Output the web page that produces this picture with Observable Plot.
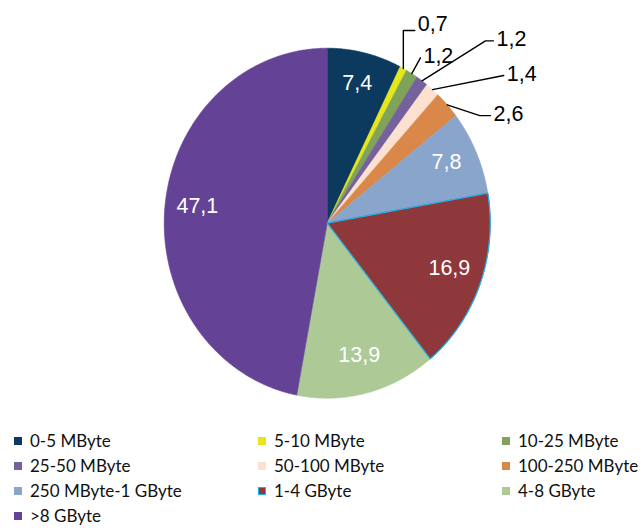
<!DOCTYPE html>
<html>
<head>
<meta charset="utf-8">
<script src="https://cdn.jsdelivr.net/npm/d3@7"></script>
<script src="https://cdn.jsdelivr.net/npm/@observablehq/plot@0.6"></script>
<style>
  html, body { margin: 0; padding: 0; background: #fff; }
  #wrap { position: relative; width: 641px; height: 530px; overflow: hidden; }
  #chart { position: absolute; left: 0; top: 0; }
  #legend { position: absolute; left: 0; top: 428px; width: 641px;
            font-family: Lato, "Open Sans", sans-serif; font-size: 17px; color: #111; }
  .item { position: absolute; height: 25px; line-height: 25px; white-space: nowrap; }
  .sw { position: absolute; top: 9px; width: 8px; height: 8px; box-sizing: border-box; }
  .lab { position: absolute; left: 16px; top: 0; }
</style>
</head>
<body>
<div id="wrap">
  <div id="chart"></div>
  <div id="legend"></div>
</div>
<script>
// ---- data ----
const categories = ["0-5 MByte", "5-10 MByte", "10-25 MByte", "25-50 MByte", "50-100 MByte",
  "100-250 MByte", "250 MByte-1 GByte", "1-4 GByte", "4-8 GByte", ">8 GByte"];
const shares = [7.4, 0.7, 1.2, 1.2, 1.4, 2.6, 7.8, 16.9, 13.9, 47.1];
const colors = ["#0c3a5e", "#e6e61c", "#80a35a", "#75629c", "#fde1d0",
  "#da884a", "#89a5cb", "#8e383b", "#adc996", "#644397"];
const outlined = "1-4 GByte";
const outlineColor = "#1eb3e8";

// ---- geometry (computed from data) ----
const arcs = d3.pie().sort(null).value(d => d)(shares);
const polar = (a, r) => ({x: r * Math.sin(a), y: -r * Math.cos(a)});
const slicePts = [];
arcs.forEach((a, i) => {
  const key = categories[i];
  slicePts.push({key, ...polar(0, 0)});
  const n = Math.max(2, Math.ceil((a.endAngle - a.startAngle) / (Math.PI / 360)));
  for (let k = 0; k <= n; k++) {
    const t = a.startAngle + (a.endAngle - a.startAngle) * k / n;
    slicePts.push({key, ...polar(t, 1)});
  }
  slicePts.push({key, ...polar(0, 0)});
});
const fmt = v => v.toFixed(1).replace(".", ",");
const mid = a => (a.startAngle + a.endAngle) / 2;

// inside labels for big slices
const inside = arcs.filter(a => a.data >= 5).map(a => ({text: fmt(a.data), ...polar(mid(a), 0.8)}));

// outside callouts for small slices (layout of leader elbows/ends, normalized units)
const callout = [
  {k: null, l: [0.537, -1.101], vertical: true, dy: -5},
  {k: null, l: [0.572, -0.945]},
  {k: [0.971, -1.042], l: [1.020, -1.042]},
  {k: null, l: [1.083, -0.844]},
  {k: [0.936, -0.615], l: [1.002, -0.615]}
];
const small = arcs.filter(a => a.data < 5);
const leaderPts = [], outside = [];
small.forEach((a, j) => {
  const c = callout[j];
  const e = polar(mid(a), 1.0);
  const key = "c" + j;
  leaderPts.push({key, x: e.x, y: e.y});
  if (c.vertical) leaderPts.push({key, x: e.x, y: c.l[1]});
  else if (c.k) leaderPts.push({key, x: c.k[0], y: c.k[1]});
  leaderPts.push({key, x: c.l[0], y: c.l[1]});
  outside.push({text: fmt(a.data), x: c.l[0], y: c.l[1], dy: c.dy || 0});
});

const cx = 326.7, cy = 222.7, rx = 163, ry = 175;
const font = "'Liberation Sans', Arial, sans-serif";

const chart = Plot.plot({
  width: 641,
  height: 425,
  margin: 0,
  style: {background: "white"},
  x: {domain: [-1, 1], range: [cx - rx, cx + rx], axis: null},
  y: {domain: [-1, 1], range: [cy - ry, cy + ry], axis: null},
  color: {domain: categories, range: colors},
  marks: [
    Plot.line(slicePts, {x: "x", y: "y", z: "key", fill: "key", stroke: "key", strokeWidth: 0.6, curve: "linear"}),
    Plot.line(slicePts.filter(d => d.key === outlined), {x: "x", y: "y", stroke: outlineColor, strokeWidth: 1.2, curve: "linear"}),
    Plot.line(leaderPts, {x: "x", y: "y", z: "key", stroke: "black", strokeWidth: 1.4, curve: "linear"}),
    Plot.text(inside, {x: "x", y: "y", text: "text", fill: "white", fontSize: 21.5, fontFamily: font, dy: -4}),
    Plot.text(outside.filter(d => d.dy === 0), {x: "x", y: "y", text: "text", fill: "black", fontSize: 21.5, fontFamily: font,
      textAnchor: "start", lineAnchor: "bottom", dx: 3, dy: 5}),
    Plot.text(outside.filter(d => d.dy !== 0), {x: "x", y: "y", text: "text", fill: "black", fontSize: 21.5, fontFamily: font,
      textAnchor: "start", lineAnchor: "bottom", dx: 3, dy: 0})
  ]
});
document.getElementById("chart").appendChild(chart);

// ---- legend (3 columns, row-major) ----
const legend = document.getElementById("legend");
const colX = [14, 258, 502];
categories.forEach((c, i) => {
  const item = document.createElement("div");
  item.className = "item";
  item.style.left = colX[i % 3] + "px";
  item.style.top = (Math.floor(i / 3) * 25) + "px";
  const sw = document.createElement("div");
  sw.className = "sw";
  sw.style.background = colors[i];
  if (c === outlined) { sw.style.border = "1.5px solid " + outlineColor; }
  const lab = document.createElement("span");
  lab.className = "lab";
  lab.textContent = c;
  item.appendChild(sw);
  item.appendChild(lab);
  legend.appendChild(item);
});
</script>
</body>
</html>
